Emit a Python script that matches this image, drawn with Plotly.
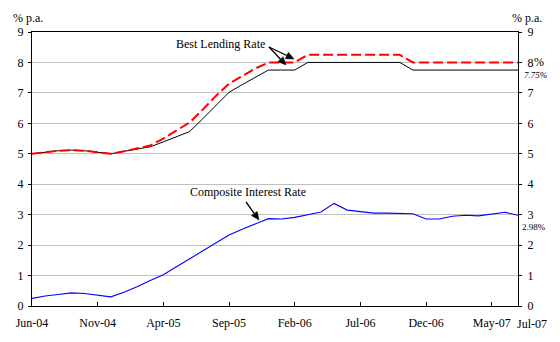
import math
import plotly.graph_objects as go

month_names = ["Jan", "Feb", "Mar", "Apr", "May", "Jun", "Jul", "Aug", "Sep", "Oct", "Nov", "Dec"]
months = []
for k in range(38):
    m = (5 + k) % 12
    y = 4 + (5 + k) // 12
    months.append(f"{month_names[m]}-{y:02d}")

composite = [0.25, 0.33, 0.38, 0.43, 0.41, 0.35, 0.30, 0.45, 0.63, 0.84,
             1.03, 1.29, 1.55, 1.81, 2.07, 2.33, 2.52, 2.70, 2.87, 2.86,
             2.91, 3.00, 3.09, 3.37, 3.15, 3.10, 3.05, 3.05, 3.03, 3.03,
             2.86, 2.86, 2.95, 2.98, 2.96, 3.01, 3.08, 2.98]

blr_red = [5.0, 5.05, 5.1, 5.12, 5.1, 5.05, 5.0, 5.08, 5.17, 5.27,
           5.5, 5.77, 6.03, 6.45, 6.9, 7.3, 7.55, 7.8, 8.0, 8.0,
           8.0, 8.25, 8.25, 8.25, 8.25, 8.25, 8.25, 8.25, 8.25, 8.0,
           8.0, 8.0, 8.0, 8.0, 8.0, 8.0, 8.0, 8.0]

blr_black = [5.0, 5.05, 5.1, 5.12, 5.1, 5.05, 5.0, 5.08, 5.15, 5.23,
             5.39, 5.56, 5.73, 6.15, 6.6, 7.02, 7.27, 7.52, 7.75, 7.75,
             7.75, 8.0, 8.0, 8.0, 8.0, 8.0, 8.0, 8.0, 8.0, 7.75,
             7.75, 7.75, 7.75, 7.75, 7.75, 7.75, 7.75, 7.75]

tick_labels = ["Jun-04", "Nov-04", "Apr-05", "Sep-05", "Feb-06", "Jul-06", "Dec-06", "May-07"]
y_ticks = [0, 1, 2, 3, 4, 5, 6, 7, 8, 9]

FONT = "Liberation Serif"

fig = go.Figure()
fig.add_trace(go.Scatter(x=months, y=blr_black, mode="lines",
                         line=dict(color="black", width=1), showlegend=False, hoverinfo="skip"))
fig.add_trace(go.Scatter(x=months, y=blr_red, mode="lines",
                         line=dict(color="#ff0000", width=2, dash="10px,4px"), showlegend=False, hoverinfo="skip"))
fig.add_trace(go.Scatter(x=months, y=composite, mode="lines",
                         line=dict(color="#0000ff", width=1.1), showlegend=False, hoverinfo="skip"))
fig.add_trace(go.Scatter(x=months, y=composite, mode="lines", yaxis="y2",
                         line=dict(width=0), opacity=0, showlegend=False, hoverinfo="skip"))

axis_font = dict(family=FONT, size=12, color="black")

fig.update_layout(
    width=560, height=342,
    margin=dict(l=32, r=42, t=32, b=36),
    paper_bgcolor="white", plot_bgcolor="white",
    font=axis_font,
    xaxis=dict(type="category", categoryorder="array", categoryarray=months,
               range=[0, len(months) - 1],
               tickmode="array", tickvals=tick_labels, ticktext=tick_labels,
               ticks="inside", ticklen=4, tickcolor="black", ticklabelstandoff=6,
               showline=True, linecolor="black", linewidth=1, mirror=True,
               showgrid=False, zeroline=False, tickfont=axis_font, tickangle=0),
    yaxis=dict(range=[0, 9], tickvals=y_ticks, ticks="outside", ticklen=3, tickcolor="black",
               ticklabelstandoff=2,
               showline=True, linecolor="black", linewidth=1, mirror=True,
               showgrid=True, gridcolor="#c0c0c0", gridwidth=1, zeroline=False,
               tickfont=axis_font),
    yaxis2=dict(range=[0, 9], tickvals=y_ticks, overlaying="y", side="right",
                ticks="outside", ticklen=3, tickcolor="black", ticklabelstandoff=3,
                showline=True, linecolor="black", linewidth=1,
                showgrid=False, zeroline=False, tickfont=axis_font),
)

def px2x(px):
    return (px - 32) / 486

def px2y(py):
    return (306 - py) / 274

shapes = []

def add_arrow(tail, head, head_len=8.0, head_half=3.6, width=1.3):
    tx, ty = tail
    hx, hy = head
    dx, dy = hx - tx, hy - ty
    L = math.hypot(dx, dy)
    ux, uy = dx / L, dy / L
    bx, by = hx - ux * head_len, hy - uy * head_len
    nx, ny = -uy, ux
    shapes.append(dict(type="line", xref="paper", yref="paper", layer="above",
                       x0=px2x(tx), y0=px2y(ty), x1=px2x(bx), y1=px2y(by),
                       line=dict(color="black", width=width)))
    p1 = (bx + nx * head_half, by + ny * head_half)
    p2 = (bx - nx * head_half, by - ny * head_half)
    path = "M {:.5f},{:.5f} L {:.5f},{:.5f} L {:.5f},{:.5f} Z".format(
        px2x(hx), px2y(hy), px2x(p1[0]), px2y(p1[1]), px2x(p2[0]), px2y(p2[1]))
    shapes.append(dict(type="path", xref="paper", yref="paper", layer="above", path=path,
                       fillcolor="black", line=dict(color="black", width=0.5)))

add_arrow((269, 47), (294, 59))
add_arrow((269, 47), (286, 65))
add_arrow((246, 202), (259, 220))

ann = []
ann.append(dict(text="Best Lending Rate", xref="paper", yref="paper", x=px2x(220), y=px2y(44),
                showarrow=False, font=axis_font, xanchor="center", yanchor="middle"))
ann.append(dict(text="Composite Interest Rate", xref="paper", yref="paper", x=px2x(248), y=px2y(192),
                showarrow=False, font=axis_font, xanchor="center", yanchor="middle"))
ann.append(dict(text="% p.a.", xref="paper", yref="paper", x=px2x(28), y=px2y(18),
                showarrow=False, font=axis_font, xanchor="center", yanchor="middle"))
ann.append(dict(text="% p.a.", xref="paper", yref="paper", x=px2x(527), y=px2y(18),
                showarrow=False, font=axis_font, xanchor="center", yanchor="middle"))
ann.append(dict(text="%", xref="paper", yref="y", x=px2x(539), y=8,
                showarrow=False, font=axis_font, xanchor="center", yanchor="middle"))
ann.append(dict(text="<i>7.75%</i>", xref="paper", yref="y", x=px2x(535), y=7.59,
                showarrow=False, font=dict(family=FONT, size=9, color="black"),
                xanchor="center", yanchor="middle"))
ann.append(dict(text="2.98%", xref="paper", yref="y", x=px2x(534), y=2.6,
                showarrow=False, font=dict(family=FONT, size=9, color="black"),
                xanchor="center", yanchor="middle"))
ann.append(dict(text="Jul-07", xref="paper", yref="paper", x=px2x(532), y=px2y(324),
                showarrow=False, font=axis_font, xanchor="center", yanchor="middle"))

fig.update_layout(annotations=ann, shapes=shapes)
fig.write_html("out.html")
